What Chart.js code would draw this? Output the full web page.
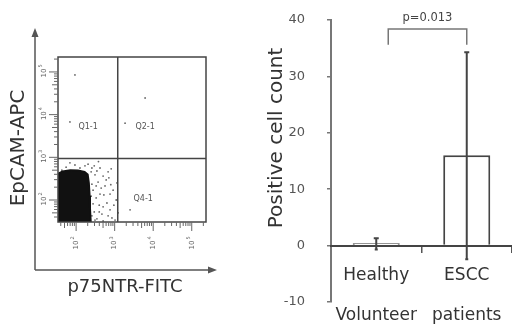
<!DOCTYPE html>
<html>
<head>
<meta charset="utf-8">
<script src="https://cdn.jsdelivr.net/npm/chart.js@4"></script>
<style>
  html, body { margin: 0; padding: 0; background: #fff; }
  #wrap { position: relative; width: 512px; height: 328px; overflow: hidden; }
  canvas { position: absolute; top: 0; }
  #flow { left: 0; }
  #bars { left: 260px; }
</style>
</head>
<body>
<div id="wrap">
  <canvas id="flow" width="260" height="328"></canvas>
  <canvas id="bars" width="252" height="328"></canvas>
</div>
<script>
// ---- flow plot data (log10 units) ----
const flowDecades = [2, 3, 4, 5];
const quadrantGate = { x: 3.08, y: 2.97 };
const quadrantNames = ['Q1-1', 'Q2-1', 'Q4-1'];
const quadrantLabelX = [2.31, 3.79, 3.74];
const quadrantLabelY = [3.71, 3.71, 2.02];
// outline of the dense negative population (fills down to the axis)
const blobEdge = [
  [1.53, 2.55], [1.56, 2.63], [1.65, 2.67], [1.85, 2.70], [2.05, 2.69],
  [2.22, 2.66], [2.30, 2.60], [2.33, 2.40], [2.35, 2.10], [2.36, 1.80], [2.38, 1.485]
];
const eventsX = [2.49, 2.57, 2.44, 2.65, 2.52, 2.72, 2.60, 2.80, 2.47, 2.67, 2.88, 2.54, 2.93,
                 2.78, 2.96, 2.41, 2.23, 1.97, 1.74, 3.04, 2.83, 2.62, 3.09, 2.70, 1.97, 3.79,
                 1.84, 3.27, 3.40, 2.90, 2.58,
                 2.39, 2.47, 2.54, 2.70, 2.85, 2.41, 2.52, 2.75, 2.88, 2.39, 2.62, 2.44, 2.70,
                 2.98, 2.41, 2.60, 2.83, 3.01, 2.31, 2.10, 1.84, 1.63, 3.06, 2.91, 2.49];
const eventsY = [2.59, 2.42, 2.23, 2.28, 2.05, 2.12, 1.88, 1.93, 1.72, 1.67, 1.77, 1.56, 1.58,
                 2.47, 2.23, 2.75, 2.80, 2.82, 2.77, 2.00, 2.66, 2.75, 1.70, 1.51, 4.93, 4.39,
                 3.83, 3.80, 1.77, 2.36, 2.90,
                 2.66, 2.80, 2.68, 2.56, 2.52, 2.37, 2.33, 2.33, 2.14, 2.09, 2.14, 1.91, 1.84,
                 1.88, 1.63, 1.72, 1.63, 1.53, 2.84, 2.75, 2.87, 2.70, 2.40, 2.73, 1.53];

// ---- bar chart data ----
const groups = [['Healthy', 'Volunteer'], ['ESCC', 'patients']];
const meanCount = [0.4, 16.0];
const errLow = [-0.7, -2.4];
const errHigh = [1.3, 34.3];
const yTicks = { min: -10, max: 40, step: 10 };
const yTitle = 'Positive cell count';
const pValue = 'p=0.013';
const bracketTop = 38.4;
const bracketLeg = 35.6;

const ink = '#444';

const flowDecor = {
  id: 'flowDecor',
  afterDatasetsDraw(chart) {
    const { ctx, chartArea: a, scales: { x, y } } = chart;
    ctx.save();
    ctx.strokeStyle = '#444';
    ctx.lineWidth = 1.5;
    ctx.strokeRect(a.left, a.top, a.right - a.left, a.bottom - a.top);
    const gx = x.getPixelForValue(quadrantGate.x);
    const gy = y.getPixelForValue(quadrantGate.y);
    ctx.beginPath();
    ctx.moveTo(gx, a.top); ctx.lineTo(gx, a.bottom);
    ctx.moveTo(a.left, gy); ctx.lineTo(a.right, gy);
    ctx.stroke();

    // quadrant names
    ctx.fillStyle = '#555';
    ctx.font = '8px "DejaVu Sans"';
    ctx.textAlign = 'center';
    ctx.textBaseline = 'middle';
    quadrantNames.forEach((n, i) => {
      ctx.fillText(n, x.getPixelForValue(quadrantLabelX[i]), y.getPixelForValue(quadrantLabelY[i]));
    });

    // log ticks
    ctx.strokeStyle = '#666';
    ctx.lineWidth = 1;
    ctx.beginPath();
    for (let d = 1; d <= 5; d++) {
      for (let k = 1; k <= 9; k++) {
        const v = d + Math.log10(k);
        const len = k === 1 ? 9 : (k === 5 ? 6 : 4);
        if (v >= x.min && v <= x.max) {
          const px = x.getPixelForValue(v);
          ctx.moveTo(px, a.bottom); ctx.lineTo(px, a.bottom + len);
        }
        if (v >= y.min && v <= y.max) {
          const py = y.getPixelForValue(v);
          ctx.moveTo(a.left, py); ctx.lineTo(a.left - len, py);
        }
      }
    }
    ctx.stroke();

    // decade labels, rotated
    ctx.fillStyle = '#666';
    flowDecades.forEach(d => {
      [[x.getPixelForValue(d), a.bottom + 22], [a.left - 14, y.getPixelForValue(d)]].forEach(([px, py]) => {
        ctx.save();
        ctx.translate(px, py);
        ctx.rotate(-Math.PI / 2);
        ctx.font = '7px "DejaVu Sans"';
        ctx.fillText('10', -1, 0);
        ctx.font = '5px "DejaVu Sans"';
        ctx.fillText(String(d), 6, -3);
        ctx.restore();
      });
    });

    // arrow axes
    const ox = a.left - 23, oy = a.bottom + 48;
    ctx.strokeStyle = '#555';
    ctx.fillStyle = '#555';
    ctx.lineWidth = 1.5;
    ctx.beginPath();
    ctx.moveTo(ox, oy); ctx.lineTo(ox, a.top - 25);
    ctx.moveTo(ox, oy); ctx.lineTo(a.right + 7, oy);
    ctx.stroke();
    ctx.beginPath();
    ctx.moveTo(ox, a.top - 29); ctx.lineTo(ox - 3.5, a.top - 20); ctx.lineTo(ox + 3.5, a.top - 20); ctx.closePath();
    ctx.moveTo(a.right + 11, oy); ctx.lineTo(a.right + 2, oy - 3.5); ctx.lineTo(a.right + 2, oy + 3.5); ctx.closePath();
    ctx.fill();

    ctx.fillStyle = '#333';
    ctx.font = '18px "DejaVu Sans"';
    ctx.fillText('p75NTR-FITC', 125, oy + 17);
    ctx.save();
    ctx.translate(19, 148);
    ctx.rotate(-Math.PI / 2);
    ctx.font = '20px "DejaVu Sans"';
    ctx.fillText('EpCAM-APC', 0, 0);
    ctx.restore();
    ctx.restore();
  }
};

new Chart(document.getElementById('flow'), {
  type: 'scatter',
  data: {
    datasets: [
      {
        type: 'line',
        data: blobEdge.map(p => ({ x: p[0], y: p[1] })),
        borderColor: '#111',
        backgroundColor: '#111',
        borderWidth: 2,
        pointRadius: 0,
        fill: 'start',
        tension: 0
      },
      {
        data: eventsX.map((v, i) => ({ x: v, y: eventsY[i] })),
        backgroundColor: '#666',
        borderWidth: 0,
        pointRadius: 0.9
      }
    ]
  },
  options: {
    responsive: false,
    animation: false,
    devicePixelRatio: 1,
    layout: { padding: { left: 58, right: 54, top: 57, bottom: 106 } },
    plugins: { legend: { display: false }, tooltip: { enabled: false } },
    scales: {
      x: { type: 'linear', min: 1.53, max: 5.37, display: false },
      y: { type: 'linear', min: 1.485, max: 5.35, display: false }
    }
  },
  plugins: [flowDecor]
});

const errorBars = {
  id: 'errorBars',
  afterDatasetsDraw(chart) {
    const { ctx, chartArea: a, scales: { y } } = chart;
    const bars = chart.getDatasetMeta(0).data;
    ctx.save();
    ctx.strokeStyle = ink;
    ctx.lineWidth = 2;
    bars.forEach((b, i) => {
      const top = y.getPixelForValue(errHigh[i]);
      const bot = y.getPixelForValue(errLow[i]);
      ctx.beginPath();
      ctx.moveTo(b.x, bot); ctx.lineTo(b.x, top);
      ctx.moveTo(b.x - 2.5, top); ctx.lineTo(b.x + 2.5, top);
      ctx.moveTo(b.x - 1.5, bot); ctx.lineTo(b.x + 1.5, bot);
      ctx.stroke();
    });
    // significance bracket
    const x0 = bars[0].x + 12, x1 = bars[1].x;
    const yt = y.getPixelForValue(bracketTop), yl = y.getPixelForValue(bracketLeg);
    ctx.strokeStyle = '#777';
    ctx.lineWidth = 1.5;
    ctx.beginPath();
    ctx.moveTo(x0, yl); ctx.lineTo(x0, yt); ctx.lineTo(x1, yt); ctx.lineTo(x1, yl);
    ctx.stroke();
    ctx.fillStyle = ink;
    ctx.font = '11.5px "DejaVu Sans"';
    ctx.textAlign = 'center';
    ctx.textBaseline = 'bottom';
    ctx.fillText(pValue, (x0 + x1) / 2, yt - 5);

    // y axis title, sitting a little above the axis middle
    ctx.fillStyle = '#333';
    ctx.font = '20px "DejaVu Sans"';
    ctx.textBaseline = 'middle';
    ctx.translate(17, a.top + 118);
    ctx.rotate(-Math.PI / 2);
    ctx.fillText(yTitle, 0, 0);
    ctx.restore();
  }
};

new Chart(document.getElementById('bars'), {
  type: 'bar',
  data: {
    labels: groups,
    datasets: [{
      data: meanCount,
      backgroundColor: '#fff',
      borderColor: ink,
      borderWidth: 2,
      categoryPercentage: 1,
      barPercentage: 0.52
    }]
  },
  options: {
    responsive: false,
    animation: false,
    devicePixelRatio: 1,
    layout: { padding: { left: 0, right: 0, top: 20, bottom: 26 } },
    plugins: { legend: { display: false }, tooltip: { enabled: false } },
    scales: {
      y: {
        min: yTicks.min,
        max: yTicks.max,
        afterFit(scale) {
          scale.width = 71;
          scale.paddingTop = 0;
          scale.paddingBottom = 0;
        },
        ticks: { stepSize: yTicks.step, color: '#555', font: { family: 'DejaVu Sans', size: 13 }, padding: 22 },
        grid: { drawOnChartArea: false, tickLength: 4, color: '#777', lineWidth: 1.5 },
        border: { color: '#777', width: 2 }
      },
      x: {
        position: { y: 0 },
        ticks: { color: '#333', font: { family: 'DejaVu Sans', size: 17, lineHeight: 2.41 }, padding: 3 },
        grid: { drawOnChartArea: false, tickLength: 6, offset: true, color: '#555', lineWidth: 1.5 },
        border: { color: ink, width: 2 }
      }
    }
  },
  plugins: [errorBars]
});
</script>
</body>
</html>
